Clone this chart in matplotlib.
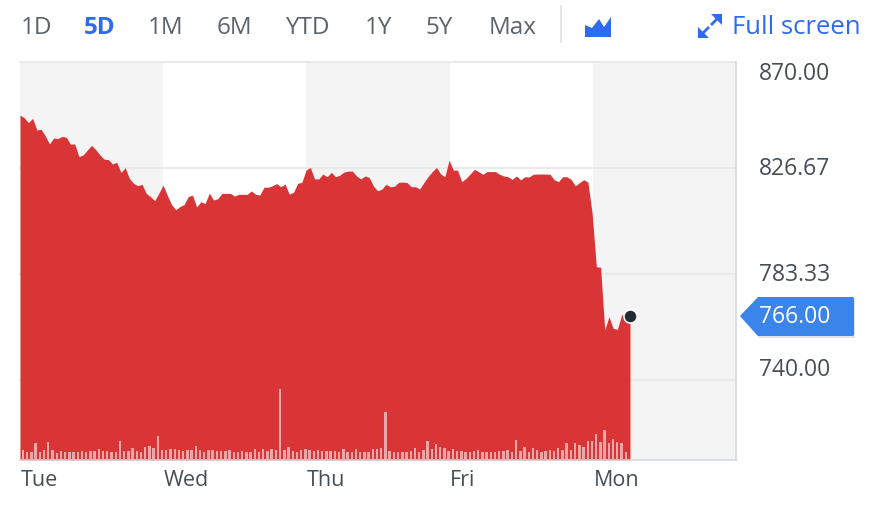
import numpy as np
import matplotlib
matplotlib.use('Agg')
import matplotlib.pyplot as plt
from matplotlib.patches import Polygon

plt.rcParams['font.family'] = ['Open Sans', 'DejaVu Sans']

# Share price
price = [848.3, 847.2, 845.2, 847.0, 842.2, 842.5, 839.8, 836.5, 838.9, 838.7, 839.6, 839.2, 836.4, 836.5,
         831.3, 832.0, 834.0, 835.9, 834.2, 832.0, 830.3, 830.1, 828.3, 829.0, 824.8, 826.8, 822.4, 820.4,
         819.4, 820.0, 816.3, 815.0, 813.3, 816.3, 819.7, 815.6, 811.8, 809.6, 810.9, 811.7, 815.0, 815.6,
         810.7, 812.9, 812.1, 816.4, 813.6, 814.1, 816.3, 816.3, 816.3, 815.2, 815.9, 815.9, 815.9, 817.3,
         815.9, 815.6, 818.8, 818.8, 819.4, 820.3, 819.0, 820.1, 816.0, 816.7, 820.4,
         820.8, 825.8, 826.9, 822.2, 822.2, 824.2, 823.1, 824.9, 823.1, 823.7, 825.0, 825.4, 825.4, 823.4,
         822.2, 823.4, 822.8, 819.3, 817.4, 818.0, 820.0, 819.0, 819.2, 820.8, 820.9, 820.7, 819.0, 819.0,
         818.1, 820.7, 823.1, 825.2, 826.9, 824.2, 823.1, 829.9, 825.8, 825.8, 821.1, 822.4, 824.2, 826.1,
         825.2, 824.1, 825.2, 825.2, 825.2, 824.1, 823.4, 823.1, 822.0, 823.4, 821.8, 823.1, 823.0, 824.1,
         824.2, 824.2, 824.2, 824.1, 821.8, 821.1, 823.1, 823.1, 822.0, 819.4, 820.7, 821.9, 820.9,
         808.1, 786.3, 786.1, 760.4, 765.9, 761.1, 760.7, 766.6, 767.3, 766.0]

# Volume, arbitrary units
volume = [29, 25, 25, 50, 25, 30, 55, 30, 22, 28, 25, 24, 24, 25, 28, 24, 27, 27, 32, 26, 27, 24, 24, 57,
          27, 27, 36, 28, 25, 40, 43, 35, 72, 31, 30, 33, 33, 31, 26, 31, 30, 42, 30, 25, 30, 30, 28, 28,
          26, 30, 24, 25, 27, 24, 24, 34, 25, 34, 28, 34, 29, 214, 31, 40, 27, 25, 31, 34, 30, 28, 30, 26, 28,
          28, 28, 24, 33, 25, 25, 34, 24, 25, 25, 33, 32, 36, 145, 28, 25, 25, 25, 25, 26, 35, 25, 30, 57,
          33, 49, 38, 35, 28, 34, 28, 28, 24, 25, 27, 30, 25, 25, 25, 25, 28, 27, 31, 25, 60, 28, 40, 25,
          35, 31, 24, 27, 30, 27, 35, 30, 50, 31, 52, 45, 38, 58, 57, 78, 55, 90, 52, 62, 55, 50, 25]

day_labels = ['Tue', 'Wed', 'Thu', 'Fri', 'Mon']
y_ticks = [870.00, 826.67, 783.33, 740.00]
last_price = 766.00
ranges = ['1D', '5D', '1M', '6M', 'YTD', '1Y', '5Y', 'Max']
range_x = [21, 84, 148, 217, 285, 365, 426, 489]

# x in trading days since Tuesday's open
day_px = 143.25
price_x = np.linspace(0, 610 / day_px, len(price))
volume_x = np.linspace(3 / day_px, 605.7 / day_px, len(volume))

fig = plt.figure(figsize=(8.78, 5.12), dpi=100)
ax = fig.add_axes([20 / 878, 1 - 460 / 512, 716 / 878, 398 / 512])
ax.set_xlim(0, 716 / day_px)
ax.set_ylim(707.3, 870)

# Grey bands on alternate days
for d in [0, 2, 4]:
    ax.axvspan(d, d + 1, color='#f4f4f4', lw=0, zorder=0)
for t in y_ticks:
    ax.axhline(t, color='#e9e9ea', lw=1.5, zorder=1, clip_on=False)

ax.fill_between(price_x, price, 707.3, color='#d93436', lw=0, zorder=2)

# Volume bars share the x axis, 3 units to a pixel
vol_ax = ax.twinx()
vol_ax.set_ylim(0, 398 * 3)
vol_ax.bar(volume_x, volume, width=2.4 / day_px, color='#efa6a8', lw=0)
vol_ax.axis('off')

ax.plot(price_x[-1], price[-1], 'o', ms=9.5, color='#232a31', mec='white', mew=1.2,
        zorder=5, clip_on=False)

ax.set_xticks([])
ax.set_yticks([])
for side in ['top', 'left']:
    ax.spines[side].set_visible(False)
for side in ['right', 'bottom']:
    ax.spines[side].set_color('#d5d9de')
    ax.spines[side].set_linewidth(1.2)

# Overlay in pixel coordinates for the page furniture
ui = fig.add_axes([0, 0, 1, 1], zorder=10)
ui.set_xlim(0, 878)
ui.set_ylim(512, 0)
ui.axis('off')

grey = '#5b636a'
dark = '#464e56'
blue = '#2f6bf0'

for name, x in zip(ranges, range_x):
    on = name == '5D'
    ui.text(x, 28, name, fontsize=17.5, color=blue if on else grey, weight='bold' if on else 'medium',
            va='center', ha='left')
ui.plot([561, 561], [6, 42], color='#e0e1e3', lw=1.2)
ui.add_patch(Polygon([(585, 37), (585, 25), (592, 28), (599, 19), (604, 27), (611, 17), (611, 37)],
                     closed=True, color=blue, lw=0))

# Full screen arrows
ui.add_patch(Polygon([(722, 14), (711, 14), (722, 25)], closed=True, color=blue, lw=0))
ui.add_patch(Polygon([(698, 38), (698, 27), (709, 38)], closed=True, color=blue, lw=0))
ui.plot([717, 712], [19, 24], color=blue, lw=2)
ui.plot([703, 708], [33, 28], color=blue, lw=2)
ui.text(732, 28, 'Full screen', fontsize=18.5, color=blue, va='center', ha='left')

for i, name in enumerate(day_labels):
    ui.text(20.5 + i * day_px, 480, name, fontsize=15.5, color=dark, va='center', ha='left')

# y labels sit near their lines, the first and last are pushed inside
label_y = [74, 169, 275, 370]
for t, y in zip(y_ticks, label_y):
    ui.text(759, y, f'{t:.2f}', fontsize=16.5, color=dark, va='center', ha='left')

# Last price tag
tag = [(740, 316), (758, 297), (853, 297), (854, 298), (854, 335), (853, 336), (758, 336)]
shadow = [(x + 1, y + 2) for x, y in tag]
ui.add_patch(Polygon(shadow, closed=True, color='#cfd3d8', lw=0, alpha=0.6))
ui.add_patch(Polygon(tag, closed=True, color='#3a84ea', lw=0))
ui.text(759, 317, f'{last_price:.2f}', fontsize=16.5, color='white', va='center', ha='left')

fig.savefig('out.png', dpi=100)
